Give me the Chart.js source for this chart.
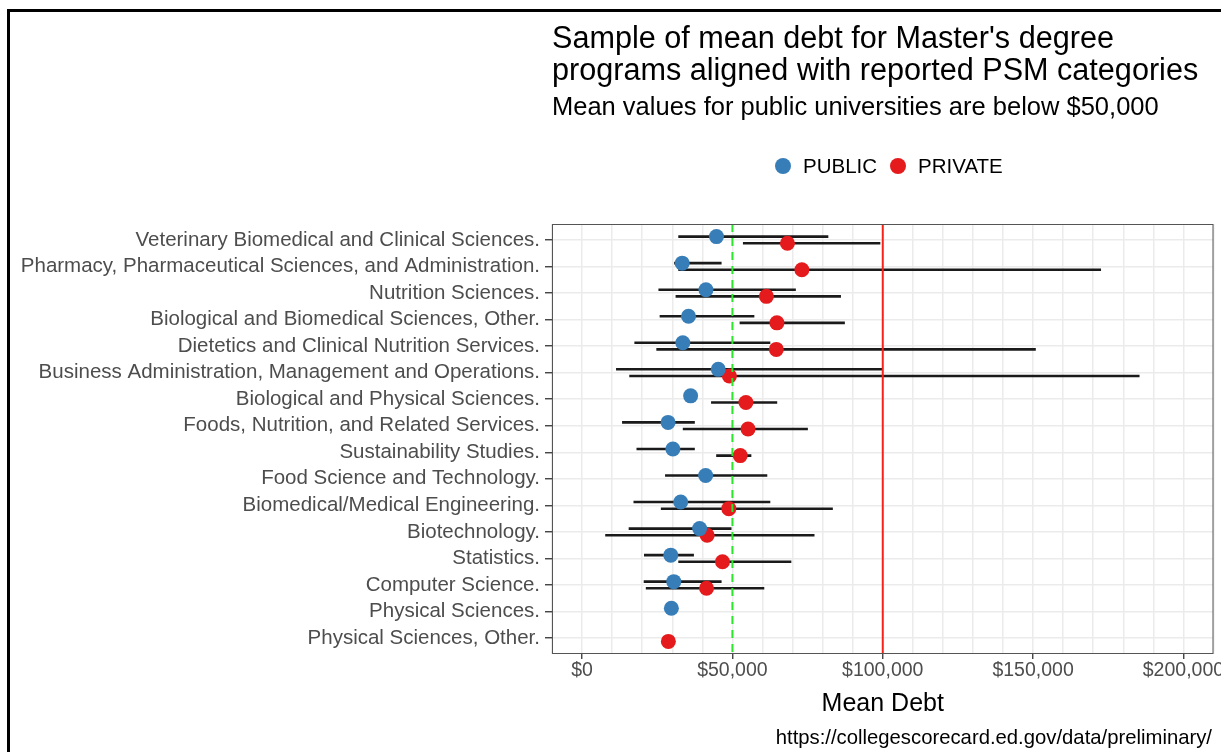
<!DOCTYPE html>
<html>
<head>
<meta charset="utf-8">
<script src="https://cdn.jsdelivr.net/npm/chart.js@4.4.1/dist/chart.umd.min.js"></script>
<style>
  body { margin: 0; background: #fff; font-family: "Liberation Sans", Arial, sans-serif; }
  #wrap { position: relative; width: 1221px; height: 752px; overflow: hidden; background: #fff; }
  #frame { position: absolute; left: 7px; top: 9px; width: 1400px; height: 900px; border-left: 3px solid #000; border-top: 3px solid #000; }
  canvas { position: absolute; left: 0; top: 0; }
  .txt { position: absolute; white-space: nowrap; color: #000; }
  #title { left: 552px; top: 21px; font-size: 30.6px; line-height: 32px; }
  #subtitle { left: 552px; top: 94px; font-size: 25.5px; line-height: 25.5px; }
  #legend { left: 775px; top: 156px; font-size: 20.5px; line-height: 20px; }
  .dot { display: inline-block; width: 16px; height: 16px; border-radius: 50%; vertical-align: -1px; margin-right: 12px; }
  .item { margin-right: 13px; }
  #caption { right: 9px; top: 727px; font-size: 20.3px; line-height: 21px; }
</style>
</head>
<body>
<div id="wrap">
  <canvas id="debt-chart" width="1221" height="752"></canvas>
  <div id="frame"></div>
  <div class="txt" id="title">Sample of mean debt for Master's degree<br>programs aligned with reported PSM categories</div>
  <div class="txt" id="subtitle">Mean values for public universities are below $50,000</div>
  <div class="txt" id="legend"><span class="item"><span class="dot" style="background:#377EB8"></span>PUBLIC</span><span class="item"><span class="dot" style="background:#E41A1C"></span>PRIVATE</span></div>
  <div class="txt" id="caption">https://collegescorecard.ed.gov/data/preliminary/</div>
</div>
<script>
const categories = [
    "Veterinary Biomedical and Clinical Sciences.",
    "Pharmacy, Pharmaceutical Sciences, and Administration.",
    "Nutrition Sciences.",
    "Biological and Biomedical Sciences, Other.",
    "Dietetics and Clinical Nutrition Services.",
    "Business Administration, Management and Operations.",
    "Biological and Physical Sciences.",
    "Foods, Nutrition, and Related Services.",
    "Sustainability Studies.",
    "Food Science and Technology.",
    "Biomedical/Medical Engineering.",
    "Biotechnology.",
    "Statistics.",
    "Computer Science.",
    "Physical Sciences.",
    "Physical Sciences, Other."
];

// mean debt and the range shown by each bar, in dollars (null = no value)
const publicMean  = [44700, 33300, 41200, 35400, 33500, 45300, 36100, 28600, 30200, 41100, 32800, 39100, 29500, 30500, 29700, null];
const publicLow   = [32000, 30600, 25400, 25800, 17400, 11300, null, 13300, 18100, 27600, 17100, 15500, 20600, 20500, null, null];
const publicHigh  = [81900, 46400, 71100, 57300, 62600, 100000, null, 37500, 37500, 61600, 62600, 49700, 37200, 46400, null, null];

const privateMean = [68300, 73100, 61300, 64800, 64600, 49000, 54500, 55200, 52600, null, 48800, 41600, 46700, 41400, null, 28700];
const privateLow  = [53500, 32000, 31100, 52400, 24700, 15700, 42900, 33500, 44600, null, 26200, 7700, 32000, 21200, null, null];
const privateHigh = [99200, 172600, 86100, 87400, 150900, 185400, 64900, 75100, 56300, null, 83400, 77300, 69600, 60600, null, null];

const xTicks = [0, 50000, 100000, 150000, 200000];
const targetLine = 50000;
const limitLine = 100000;

const dodge = 0.125;

function pointData(values, shift) {
    let out = [];
    for (let i = 0; i < categories.length; i++) {
        if (values[i] == null) continue;
        out.push({ x: values[i], y: i + shift });
    }
    return out;
}

function barData(low, high, shift) {
    let out = [];
    for (let i = 0; i < categories.length; i++) {
        if (low[i] == null) continue;
        out.push({ x: low[i], y: i + shift }, { x: high[i], y: i + shift }, { x: null, y: null });
    }
    return out;
}

function vline(value, color, dash) {
    return {
        data: [{ x: value, y: -0.6 }, { x: value, y: categories.length - 0.4 }],
        showLine: true,
        borderColor: color,
        borderWidth: 2,
        borderDash: dash,
        pointRadius: 0,
        order: 0
    };
}

const panelBorder = {
    id: "panelBorder",
    afterDraw(chart) {
        const a = chart.chartArea;
        const c = chart.ctx;
        c.save();
        c.strokeStyle = "#555";
        c.lineWidth = 1;
        c.strokeRect(a.left + 0.5, a.top + 0.5, a.right - a.left - 1, a.bottom - a.top - 1);
        c.restore();
    }
};

Chart.defaults.font.family = '"Liberation Sans", Arial, sans-serif';

let ctx = document.getElementById("debt-chart").getContext("2d");
new Chart(ctx, {
    type: "scatter",
    data: {
        datasets: [
            vline(limitLine, "#f5231a", []),
            vline(targetLine, "#2be62b", [8, 6]),
            { label: "PUBLIC", data: pointData(publicMean, -dodge), backgroundColor: "#377EB8", borderWidth: 0, pointRadius: 7.5, order: 1 },
            { label: "PRIVATE", data: pointData(privateMean, dodge), backgroundColor: "#E41A1C", borderWidth: 0, pointRadius: 7.5, order: 1 },
            { data: barData(publicLow, publicHigh, -dodge), showLine: true, spanGaps: false, borderColor: "#1a1a1a", borderWidth: 2.6, pointRadius: 0, order: 2 },
            { data: barData(privateLow, privateHigh, dodge), showLine: true, spanGaps: false, borderColor: "#1a1a1a", borderWidth: 2.6, pointRadius: 0, order: 2 }
        ]
    },
    options: {
        responsive: false,
        animation: false,
        devicePixelRatio: 1,
        layout: { padding: { top: 224, right: 6, left: 0, bottom: 0 } },
        plugins: { legend: { display: false }, tooltip: { enabled: false } },
        scales: {
            x: {
                type: "linear",
                min: -10000,
                max: 210000,
                afterFit(scale) { scale.height = 98; },
                ticks: {
                    stepSize: 10000,
                    autoSkip: false,
                    maxRotation: 0,
                    padding: 0,
                    color: "#4d4d4d",
                    font: { size: 19.5 },
                    callback: function(value) {
                        return xTicks.includes(value) ? "$" + value.toLocaleString("en-US") : "";
                    }
                },
                grid: {
                    color: "#ebebeb",
                    lineWidth: 1.5,
                    tickLength: 5,
                    tickWidth: 1.3,
                    tickColor: (c) => (c.tick && xTicks.includes(c.tick.value)) ? "#333" : "rgba(0,0,0,0)"
                },
                border: { display: false },
                title: { display: true, text: "Mean Debt", color: "#000", font: { size: 25 }, padding: { top: 0, bottom: 33 } }
            },
            y: {
                type: "linear",
                reverse: true,
                min: -0.6,
                max: categories.length - 0.4,
                afterFit(scale) { scale.width = 552; },
                afterBuildTicks(scale) { scale.ticks = categories.map((c, i) => ({ value: i })); },
                ticks: {
                    autoSkip: false,
                    padding: 5,
                    color: "#4d4d4d",
                    font: { size: 20.5 },
                    callback: (value) => categories[value]
                },
                grid: { color: "#ebebeb", lineWidth: 1.5, tickLength: 7, tickWidth: 1.3, tickColor: "#333" },
                border: { display: false }
            }
        }
    },
    plugins: [panelBorder]
});
</script>
</body>
</html>
